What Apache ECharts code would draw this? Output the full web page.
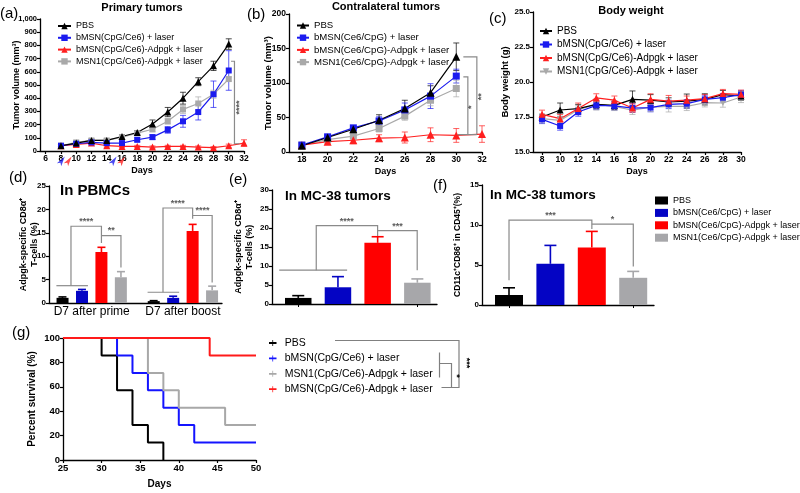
<!DOCTYPE html>
<html><head><meta charset="utf-8">
<script src="https://cdn.jsdelivr.net/npm/echarts@6/dist/echarts.min.js"></script>
<style>html,body{margin:0;padding:0;background:#fff}#c{width:800px;height:493px}</style>
</head><body><div id="c"></div>
<script>
// ================= DATA =================
// (a) Primary tumors
const A_DAYS = [8,10,12,14,16,18,20,22,24,26,28,30];
const A_DAYS_RED = [8,10,12,14,16,18,20,22,24,26,28,30,32];
const A_XTICKS = [6,8,10,12,14,16,18,20,22,24,26,28,30,32];
const A_PBS = [40,60,80,80,110,140,205,295,400,525,645,810];
const A_PBS_SD = [8,10,10,10,15,15,30,35,45,30,35,40];
const A_BLUE = [40,55,65,60,60,85,105,160,225,295,430,610];
const A_BLUE_SD = [8,10,10,10,12,15,18,25,45,60,100,150];
const A_RED = [40,50,60,40,35,35,30,35,35,30,25,40,60];
const A_RED_SD = [8,8,10,10,8,8,8,8,8,8,8,12,25];
const A_GRAY = [40,65,80,80,105,135,165,225,315,360,430,545];
const A_GRAY_SD = [8,10,10,10,15,15,20,20,30,50,30,15];
const A_ARROW_BLUE = [8.5,15.3];
const A_ARROW_RED = [9.4,16.4];
// (b) Contralateral tumors
const B_DAYS = [18,20,22,24,26,28,30];
const B_DAYS_RED = [18,20,22,24,26,28,30,32];
const B_XTICKS = [18,20,22,24,26,28,30,32];
const B_PBS = [9,21,33,46,63,86,138];
const B_PBS_SD = [3,3,4,8,12,10,20];
const B_BLUE = [10,22,35,45,61,81,110];
const B_BLUE_SD = [3,3,3,6,10,18,10];
const B_RED = [10,15,17,20,21,25,24,26];
const B_RED_SD = [3,3,5,5,8,10,10,12];
const B_GRAY = [10,18,23,34,52,75,92];
const B_GRAY_SD = [3,3,5,5,6,8,12];
// (c) Body weight
const C_DAYS = [8,10,12,14,16,18,20,22,24,26,28,30];
const C_XTICKS = [8,10,12,14,16,18,20,22,24,26,28,30];
const C_PBS = [17.5,18.0,18.1,18.4,18.33,18.76,18.7,18.57,18.64,18.76,19.1,19.0];
const C_PBS_SD = [0.2,0.5,0.3,0.3,0.3,0.6,0.4,0.3,0.5,0.4,0.3,0.3];
const C_BLUE = [17.33,16.86,17.86,18.33,18.29,18.14,18.17,18.4,18.45,18.76,18.88,19.1];
const C_BLUE_SD = [0.3,0.3,0.3,0.3,0.3,0.3,0.3,0.3,0.3,0.3,0.3,0.3];
const C_RED = [17.69,17.38,18.1,18.86,18.7,18.14,18.76,18.64,18.7,18.81,19.17,19.12];
const C_RED_SD = [0.3,0.3,0.4,0.3,0.3,0.3,0.4,0.4,0.3,0.3,0.3,0.3];
const C_GRAY = [17.38,17.26,18.02,18.4,18.26,17.98,18.2,18.26,18.26,18.52,18.5,18.93];
const C_GRAY_SD = [0.3,0.3,0.3,0.4,0.3,0.3,0.3,0.4,0.3,0.3,0.3,0.4];
// (d) In PBMCs
const D_CATS = ['D7 after prime','D7 after boost'];
const D_PBS = [1.1,0.4];   const D_PBS_SD = [0.2,0.1];
const D_BLUE = [2.6,1.1];  const D_BLUE_SD = [0.3,0.35];
const D_RED = [10.9,15.4]; const D_RED_SD = [1.0,1.4];
const D_GRAY = [5.5,2.7];  const D_GRAY_SD = [1.2,0.9];
// (e) In MC-38 tumors (Adpgk CD8)
const E_CATS = ['PBS','bMSN','bMSN-Adpgk','MSN1-Adpgk'];
const E_VAL = [1.6,4.4,16.1,5.6];
const E_SD = [0.6,2.8,1.6,1.0];
// (f) In MC-38 tumors (CD11c+CD86+)
const F_VAL = [1.25,5.15,7.2,3.4];
const F_SD = [0.9,2.3,2.0,0.8];
// (g) Survival
const G_PBS_T = [25,30,32,34,36,38];       const G_PBS_S = [100,85.7,57.1,28.6,14.3,0];
const G_BLUE_T = [25,32,34,36,38,40,42,50]; const G_BLUE_S = [100,85.7,71.4,57.1,42.9,28.6,14.3,14.3];
const G_GRAY_T = [25,36,38,40,46,50];       const G_GRAY_S = [100,71.4,57.1,42.9,28.6,28.6];
const G_RED_T = [25,44,50];                 const G_RED_S = [100,85.7,85.7];
// names
const A_NAMES = ['PBS','bMSN(CpG/Ce6) + laser','bMSN(CpG/Ce6)-Adpgk + laser','MSN1(CpG/Ce6)-Adpgk + laser'];
const B_NAMES = ['PBS','bMSN(Ce6/CpG) + laser','bMSN(Ce6/CpG)-Adpgk + laser','MSN1(Ce6/CpG)-Adpgk + laser'];
const G_NAMES = ['PBS','bMSN(CpG/Ce6) + laser','MSN1(CpG/Ce6)-Adpgk + laser','bMSN(CpG/Ce6)-Adpgk + laser'];
// significance annotations (data units)
const A_BRACKETS = [[[30.3,680],[30.75,680],[30.75,55],[31.4,55]]];
const A_STARS = [[31.45,330,'****']];
const B_BRACKETS = [[[30.55,138],[31.6,138],[31.6,25.2]],[[30.55,109],[30.9,109],[30.9,25.2]],[[30.1,25.2],[31.6,25.2]]];
const B_STARS = [[31.18,65,'*'],[31.95,80,'**']];
const D_BRACKETS = [[[0.113,3.7],[0.459,3.7]],[[0.273,3.7],[0.273,16.4],[0.607,16.4],[0.607,12.8]],[[0.607,14.4],[0.821,14.4],[0.821,7.6]],
                    [[1.113,2.3],[1.459,2.3]],[[1.282,2.3],[1.282,20.3],[1.607,20.3],[1.607,18.0]],[[1.607,18.7],[1.821,18.7],[1.821,4.4]]];
const D_STARS = [[0.44,17.4,'****'],[0.714,15.4,'**'],[1.445,21.3,'****'],[1.714,19.7,'****']];
const E_BRACKETS = [[[0.015,8.9],[1.73,8.9]],[[0.95,8.9],[0.95,20.6],[2.5,20.6],[2.5,17.9]],[[2.5,19.3],[3.5,19.3],[3.5,8.9]]];
const E_STARS = [[1.72,21.7,'****'],[3.0,20.4,'***']];
const F_BRACKETS = [[[0.5,3.1],[0.5,10.6],[2.5,10.6],[2.5,9.5]],[[2.5,10.1],[3.5,10.1],[3.5,4.8]]];
const F_STARS = [[1.5,11.2,'***'],[3.0,10.7,'*']];

// ================= STYLE =================
const FONT = '"Liberation Sans", Arial, Helvetica, sans-serif';
const COL_BLACK='#000000', COL_BLUE='#1b1bef', COL_RED='#ff1f1f', COL_GRAY='#a9a9a9';
const BAR_COLORS = ['#000000','#0404c4','#ff0000','#a7a7aa'];
const ZW = n => '\u200b'.repeat(n);
const C_NAMES = A_NAMES.map(n => n + ZW(1));
const B_SNAMES = B_NAMES.map(n => n + ZW(2));
const F_NAMES = B_NAMES.map(n => n + ZW(3));
const G_SNAMES = G_NAMES.map(n => n + ZW(4));

const axLine = {show:true, onZero:false, lineStyle:{color:'#000', width:1.3}};
const axTick = {show:true, length:3, inside:false, lineStyle:{color:'#000', width:1.2}};
function lbl(fs, extra){ return Object.assign({color:'#000', fontSize:fs, fontWeight:'bold', fontFamily:FONT, margin:3}, extra||{}); }
function nameStyle(fs){ return {color:'#000', fontSize:fs, fontWeight:'bold', fontFamily:FONT, lineHeight:fs+2}; }

function grid(l,t,w,h){ return {left:l, top:t, width:w, height:h, containLabel:false, outerBoundsMode:'none'}; }

function lineS(name, ai, xs, ys, color, symbol, size, rot){
  return {type:'line', name, xAxisIndex:ai, yAxisIndex:ai, data: xs.map((x,i)=>[x, ys[i]]),
    symbol, symbolSize:size, symbolRotate:rot||0, color, itemStyle:{color}, lineStyle:{color, width:1.2}, z:4};
}
function errS(ai, xs, ys, sds, color, cap){
  return {type:'custom', xAxisIndex:ai, yAxisIndex:ai, silent:true, z:3,
    data: xs.map((x,i)=>[x, ys[i]-sds[i], ys[i]+sds[i]]),
    renderItem:(p, api)=>{
      const x = api.value(0);
      const a = api.coord([x, api.value(1)]), b = api.coord([x, api.value(2)]);
      const st = {stroke:color, lineWidth:1, opacity:0.7};
      return {type:'group', children:[
        {type:'line', shape:{x1:a[0],y1:a[1],x2:b[0],y2:b[1]}, style:st},
        {type:'line', shape:{x1:a[0]-cap,y1:a[1],x2:a[0]+cap,y2:a[1]}, style:st},
        {type:'line', shape:{x1:b[0]-cap,y1:b[1],x2:b[0]+cap,y2:b[1]}, style:st}]};
    }};
}
function barErrS(ai, vals, sds, colors, offsetPx, cap){
  return {type:'custom', xAxisIndex:ai, yAxisIndex:ai, silent:true, z:3,
    data: vals.map((v,i)=>[i, v, v+sds[i]]),
    renderItem:(p, api)=>{
      const i = p.dataIndex;
      const a = api.coord([api.value(0), api.value(1)]), b = api.coord([api.value(0), api.value(2)]);
      const x = a[0] + offsetPx;
      const col = Array.isArray(colors) ? colors[i] : colors;
      const st = {stroke:col, lineWidth:1.6};
      return {type:'group', children:[
        {type:'line', shape:{x1:x,y1:a[1],x2:x,y2:b[1]}, style:st},
        {type:'line', shape:{x1:x-cap,y1:b[1],x2:x+cap,y2:b[1]}, style:st}]};
    }};
}
function bracketS(ai, polys){
  return {type:'custom', xAxisIndex:ai, yAxisIndex:ai, silent:true, z:6, clip:false,
    data: polys.map(p=>[p[0][0], p[0][1]]),
    renderItem:(p, api)=>({type:'polyline', shape:{points: polys[p.dataIndex].map(pt=>api.coord(pt))},
      style:{stroke:'#8a8a8a', lineWidth:1.2, fill:null}})};
}
function starS(ai, stars, rot){
  return {type:'scatter', xAxisIndex:ai, yAxisIndex:ai, silent:true, z:7, symbolSize:1,
    itemStyle:{color:'transparent'},
    label:{show:true, position:'inside', color:'#333', fontSize:9, fontWeight:'bold', fontFamily:FONT, rotate:rot||0},
    data: stars.map(s=>({value:[s[0],s[1]], label:{formatter:s[2]}}))};
}
function arrowS(xs, color){
  return {type:'scatter', xAxisIndex:0, yAxisIndex:0, silent:true, z:8, clip:false,
    symbol:'arrow', symbolSize:[4,10], symbolRotate:-35, itemStyle:{color},
    data: xs.map(x=>[x,-42])};
}

// ================= AXES =================
const xName = (gap, fs) => ({name:'Days', nameLocation:'middle', nameGap:gap, nameMoveOverlap:false, nameTextStyle:nameStyle(fs)});
const xAxis = [
  Object.assign({type:'value', gridIndex:0, min:5.25, max:32, axisLine:axLine, axisTick:Object.assign({customValues:A_XTICKS},axTick),
   axisLabel:lbl(8.5,{customValues:A_XTICKS}), splitLine:{show:false}}, xName(14,9)),
  Object.assign({type:'value', gridIndex:1, min:17, max:32, axisLine:axLine, axisTick:Object.assign({customValues:B_XTICKS},axTick),
   axisLabel:lbl(8.5,{customValues:B_XTICKS}), splitLine:{show:false}}, xName(14,9)),
  Object.assign({type:'value', gridIndex:2, min:7, max:30, axisLine:axLine, axisTick:Object.assign({customValues:C_XTICKS},axTick),
   axisLabel:lbl(8.5,{customValues:C_XTICKS}), splitLine:{show:false}}, xName(14,9)),
  {type:'value', gridIndex:3, min:0.032, max:1.929, axisLine:axLine, axisTick:{show:false}, axisLabel:{show:false}, splitLine:{show:false}},
  {type:'category', gridIndex:4, data:D_CATS, axisLine:{show:false}, axisTick:{show:false},
   axisLabel:{color:'#000', fontSize:12, fontFamily:FONT, margin:3, interval:0, hideOverlap:false}},
  {type:'value', gridIndex:5, min:-0.1675, max:4, axisLine:axLine, axisTick:{show:false}, axisLabel:{show:false}, splitLine:{show:false}},
  {type:'category', gridIndex:6, data:E_CATS, axisLine:{show:false}, axisTick:{show:true, alignWithLabel:true, length:3, lineStyle:{color:'#000'}}, axisLabel:{show:false}},
  {type:'value', gridIndex:7, min:-0.152, max:4, axisLine:axLine, axisTick:{show:false}, axisLabel:{show:false}, splitLine:{show:false}},
  {type:'category', gridIndex:8, data:E_CATS, axisLine:{show:false}, axisTick:{show:true, alignWithLabel:true, length:3, lineStyle:{color:'#000'}}, axisLabel:{show:false}},
  Object.assign({type:'value', gridIndex:9, min:25, max:50, interval:5, axisLine:axLine, axisTick:axTick, axisLabel:lbl(9.5), splitLine:{show:false}}, xName(18,10))
];
function yv(g, min, max, interval, fs, name, gap, nfs, extra){
  return Object.assign({type:'value', gridIndex:g, min, max, interval, axisLine:axLine, axisTick:axTick,
    axisLabel:lbl(fs), splitLine:{show:false},
    name, nameLocation:'middle', nameRotate:90, nameGap:gap, nameMoveOverlap:false, nameTextStyle:nameStyle(nfs)}, extra||{});
}
const yHidden = (g,min,max)=>({type:'value', gridIndex:g, min, max, show:false, splitLine:{show:false}});
const yAxis = [
  yv(0,0,1000,100,7.5,'Tumor volume (mm³)',17.5,9),
  yv(1,0,200,50,8.5,'Tumor volume (mm³)',14.5,9.5),
  yv(2,15,25,2.5,8,'Body weight (g)',21.5,9.5,{axisLabel:lbl(8,{formatter:v=>v.toFixed(1)})}),
  yv(3,0,25,5,8,'Adpgk-specific CD8α⁺\nT-cells (%)',9,9),
  yHidden(4,0,25),
  yv(5,0,30,5,8,'Adpgk-specific CD8α⁺\nT-cells (%)',17,9),
  yHidden(6,0,30),
  yv(7,0,15,5,8,'CD11c⁺CD86⁺ in CD45⁺(%)',19,8.5),
  yHidden(8,0,15),
  yv(9,0,100,20,9.5,'Percent survival (%)',25,10)
];

// ================= SERIES =================
const series = [
  // (a)
  errS(0, A_DAYS, A_PBS, A_PBS_SD, COL_BLACK, 3),
  errS(0, A_DAYS, A_BLUE, A_BLUE_SD, COL_BLUE, 3),
  errS(0, A_DAYS_RED, A_RED, A_RED_SD, COL_RED, 3),
  errS(0, A_DAYS, A_GRAY, A_GRAY_SD, COL_GRAY, 3),
  lineS(A_NAMES[3], 0, A_DAYS, A_GRAY, COL_GRAY, 'rect', 6),
  lineS(A_NAMES[2], 0, A_DAYS_RED, A_RED, COL_RED, 'triangle', 7),
  lineS(A_NAMES[1], 0, A_DAYS, A_BLUE, COL_BLUE, 'rect', 6),
  lineS(A_NAMES[0], 0, A_DAYS, A_PBS, COL_BLACK, 'triangle', 7),
  bracketS(0, A_BRACKETS), starS(0, A_STARS, 90),
  arrowS(A_ARROW_BLUE, COL_BLUE), arrowS(A_ARROW_RED, COL_RED),
  // (b)
  errS(1, B_DAYS, B_PBS, B_PBS_SD, COL_BLACK, 3),
  errS(1, B_DAYS, B_BLUE, B_BLUE_SD, COL_BLUE, 3),
  errS(1, B_DAYS_RED, B_RED, B_RED_SD, COL_RED, 3),
  errS(1, B_DAYS, B_GRAY, B_GRAY_SD, COL_GRAY, 3),
  lineS(B_SNAMES[3], 1, B_DAYS, B_GRAY, COL_GRAY, 'rect', 7),
  lineS(B_SNAMES[2], 1, B_DAYS_RED, B_RED, COL_RED, 'triangle', 8),
  lineS(B_SNAMES[1], 1, B_DAYS, B_BLUE, COL_BLUE, 'rect', 7),
  lineS(B_SNAMES[0], 1, B_DAYS, B_PBS, COL_BLACK, 'triangle', 8),
  bracketS(1, B_BRACKETS), starS(1, B_STARS, 90),
  // (c)
  errS(2, C_DAYS, C_PBS, C_PBS_SD, COL_BLACK, 3),
  errS(2, C_DAYS, C_BLUE, C_BLUE_SD, COL_BLUE, 3),
  errS(2, C_DAYS, C_RED, C_RED_SD, COL_RED, 3),
  errS(2, C_DAYS, C_GRAY, C_GRAY_SD, COL_GRAY, 3),
  lineS(C_NAMES[3], 2, C_DAYS, C_GRAY, COL_GRAY, 'triangle', 6, 180),
  lineS(C_NAMES[0], 2, C_DAYS, C_PBS, COL_BLACK, 'triangle', 7),
  lineS(C_NAMES[1], 2, C_DAYS, C_BLUE, COL_BLUE, 'rect', 6),
  lineS(C_NAMES[2], 2, C_DAYS, C_RED, COL_RED, 'triangle', 7),
  // (d)
  ...[D_PBS, D_BLUE, D_RED, D_GRAY].map((vals,k)=>({type:'bar', name:F_NAMES[k], xAxisIndex:4, yAxisIndex:4,
     data:vals, barWidth:12, barGap:'62%', itemStyle:{color:BAR_COLORS[k]}, z:2})),
  ...[[D_PBS,D_PBS_SD],[D_BLUE,D_BLUE_SD],[D_RED,D_RED_SD],[D_GRAY,D_GRAY_SD]].map((vs,k)=>
     barErrS(4, vs[0], vs[1], BAR_COLORS[k], (k-1.5)*19.5, 4)),
  bracketS(3, D_BRACKETS), starS(3, D_STARS, 0),
  // (e)
  {type:'bar', name:'e', xAxisIndex:6, yAxisIndex:6, barWidth:26.5, z:2,
   data:E_VAL.map((v,i)=>({value:v, itemStyle:{color:BAR_COLORS[i]}}))},
  barErrS(6, E_VAL, E_SD, BAR_COLORS, 0, 6),
  bracketS(5, E_BRACKETS), starS(5, E_STARS, 0),
  // (f)
  {type:'bar', name:'f', xAxisIndex:8, yAxisIndex:8, barWidth:28, z:2,
   data:F_VAL.map((v,i)=>({value:v, itemStyle:{color:BAR_COLORS[i]}}))},
  barErrS(8, F_VAL, F_SD, BAR_COLORS, 0, 6),
  bracketS(7, F_BRACKETS), starS(7, F_STARS, 0),
  // (g)
  ...[[G_PBS_T,G_PBS_S,COL_BLACK,0],[G_BLUE_T,G_BLUE_S,'#1414ff',1],[G_GRAY_T,G_GRAY_S,'#a8a8a8',2],[G_RED_T,G_RED_S,'#ff1a1a',3]]
    .map(s=>({type:'line', name:G_SNAMES[s[3]], xAxisIndex:9, yAxisIndex:9, step:'end', symbol:'none',
      data:s[0].map((t,i)=>[t, s[1][i]]), color:s[2], itemStyle:{color:s[2]}, lineStyle:{color:s[2], width:2}, z:3+s[3]}))
];

const legText = fs => ({color:'#000', fontSize:fs, fontFamily:FONT});
const legend = [
  {orient:'vertical', left:52, top:16.5, itemWidth:13, itemHeight:8, itemGap:2.8, textStyle:legText(9), data:A_NAMES, selectedMode:false},
  {orient:'vertical', left:291, top:15.5, itemWidth:12, itemHeight:8, itemGap:2.2, textStyle:legText(9.6), data:B_SNAMES, selectedMode:false},
  {orient:'vertical', left:534, top:21, itemWidth:12, itemHeight:8, itemGap:3.5, textStyle:legText(10), data:C_NAMES, selectedMode:false},
  {orient:'vertical', left:650, top:191, itemWidth:13, itemHeight:8, itemGap:3.4, icon:'rect', textStyle:legText(9), data:F_NAMES, selectedMode:false},
  {orient:'vertical', left:264, top:332.5, itemWidth:14, itemHeight:6, itemGap:4.4, textStyle:legText(10.5),
   icon:'path://M0,38H100V62H0ZM45,10H55V90H45Z', data:G_SNAMES, selectedMode:false}
];

function txt(x,y,text,fs,weight,align,rot){
  return {type:'text', x, y, rotation:rot||0, silent:true,
    style:{text, fontSize:fs, fontWeight:weight||'normal', fontFamily:FONT, fill:'#000', align:align||'left', verticalAlign:'middle'}};
}
function pl(points){ return {type:'polyline', silent:true, shape:{points}, style:{stroke:'#808080', lineWidth:1.2, fill:null}}; }
const graphic = [
  txt(0,14,'(a)',15), txt(142,8,'Primary tumors',11,'bold','center'),
  txt(247,15,'(b)',15), txt(386,7,'Contralateral tumors',11,'bold','center'),
  txt(489,19,'(c)',15), txt(631,11,'Body weight',11,'bold','center'),
  txt(9,178,'(d)',15), txt(60,191,'In PBMCs',15,'bold'),
  txt(229,180,'(e)',15), txt(285,196,'In MC-38 tumors',13.5,'bold'),
  txt(433,186,'(f)',15), txt(490,195,'In MC-38 tumors',13.5,'bold'),
  txt(12,333,'(g)',15),
  pl([[335,340.5],[459,340.5],[459,387.5],[441.5,387.5]]),
  pl([[439.5,352.5],[439.5,377.5]]),
  pl([[439.5,363.5],[451.5,363.5],[451.5,387.5]]),
  txt(456.5,376,'*',9,'bold','center',-Math.PI/2),
  txt(466,363,'***',9,'bold','center',-Math.PI/2)
];

const option = {
  animation:false, backgroundColor:'#fff', textStyle:{fontFamily:FONT},
  grid:[grid(40,19,204,132), grid(289,14,193,138), grid(533,12,208,140),
        grid(49,186,173,117), grid(46.1,186,182.4,117),
        grid(272,190,165,114), grid(278.4,190,158.8,114),
        grid(482,185,172,120), grid(488.3,185,165.6,120),
        grid(63,338,193,122)],
  xAxis, yAxis, series, legend, graphic
};
const chart = echarts.init(document.getElementById('c'), null, {renderer:'canvas'});
chart.setOption(option);
</script></body></html>
